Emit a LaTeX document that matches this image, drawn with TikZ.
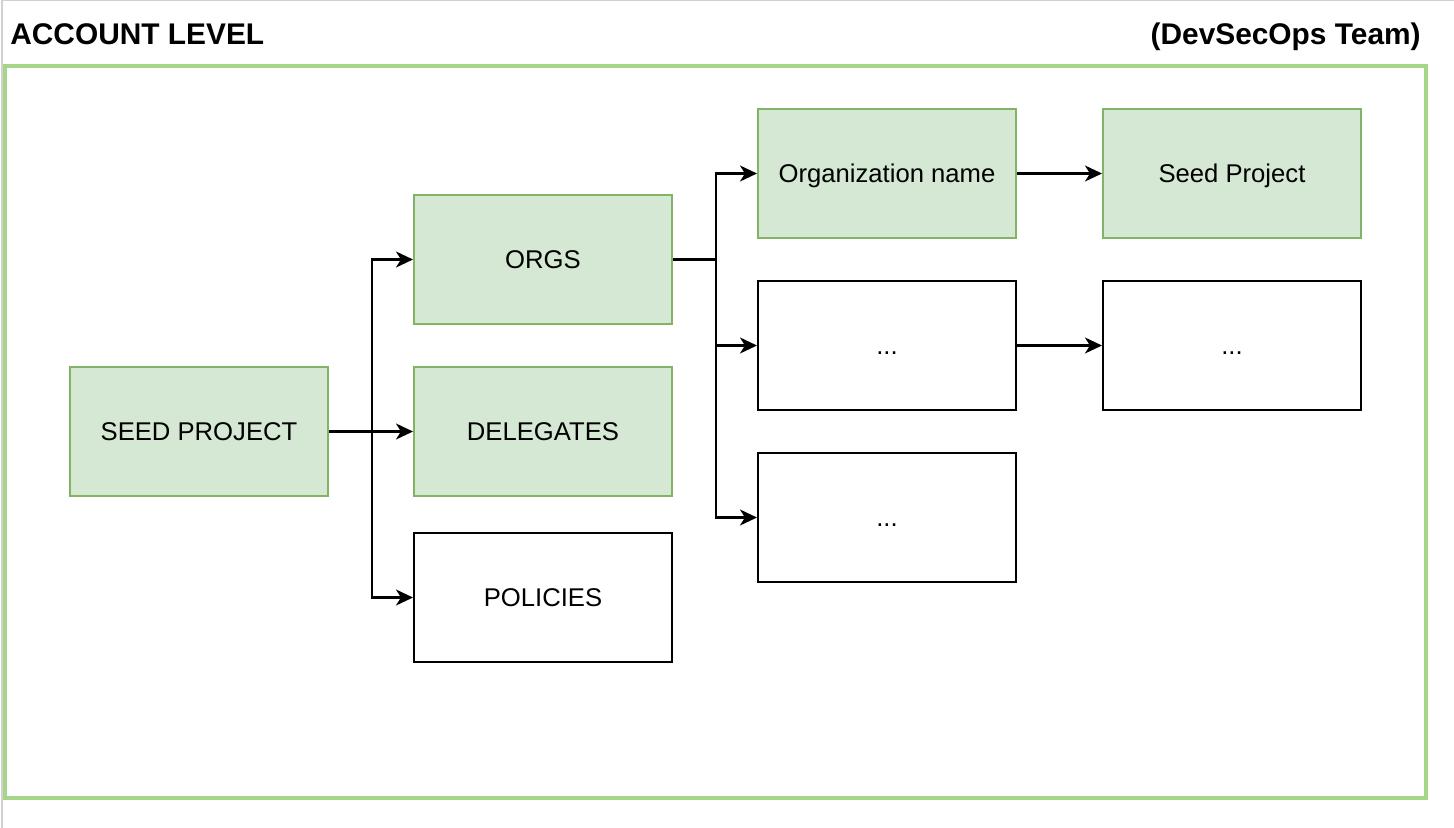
\documentclass[tikz,border=0pt]{standalone}
\usepackage{fontspec}
\setmainfont{Liberation Sans}
\usepackage{xcolor}
\usetikzlibrary{arrows.meta}
\definecolor{acctfill}{HTML}{D5E8D4}
\definecolor{acctline}{HTML}{82B366}
\definecolor{acctframe}{HTML}{A6D58A}
\tikzset{
  acctbox/.style={draw=acctline, fill=acctfill, line width=1.2pt, minimum width=5.16cm, minimum height=2.58cm, inner sep=0pt, text height=10.4pt, text depth=0pt, font=\fontsize{14.6}{17}\selectfont},
  acctplain/.style={acctbox, draw=black, fill=white},
  acctarrow/.style={-{Stealth[length=0.34cm,width=0.32cm,inset=0.1cm]}, line width=1.2pt},
}

\begin{document}
\begin{tikzpicture}[x=0.02cm, y=-0.02cm]
        \newcommand{\acctcola}{199}
        \newcommand{\acctcolb}{543}
        \newcommand{\acctcolc}{887}
        \newcommand{\acctcold}{1232}
        \newcommand{\acctrowa}{173.5}
        \newcommand{\acctrowb}{259.5}
        \newcommand{\acctrowc}{345.5}
        \newcommand{\acctrowd}{431.5}
        \newcommand{\acctrowe}{517.5}
        \newcommand{\acctrowf}{597.5}
        \newcommand{\acctgap}{43}
        \useasboundingbox (0,0) rectangle (1454,828);
        \draw[black!18, line width=0.6pt] (2,828) -- (2,0.5) -- (1454,0.5);
        \draw[acctframe, line width=2pt] (5,66) rectangle (1426,798);
        \node[anchor=base west, inner sep=0pt, font=\bfseries\fontsize{17}{20}\selectfont] (acctlevel) at (10,45) {ACCOUNT LEVEL};
        \node[anchor=base east, inner sep=0pt, font=\bfseries\fontsize{17}{20}\selectfont] (acctteam) at (1421,45) {(DevSecOps Team)};
        \node[acctbox] (seedproj) at (\acctcola,\acctrowd) {SEED PROJECT};
        \node[acctbox] (orgs) at (\acctcolb,\acctrowb) {ORGS};
        \node[acctbox] (delegates) at (\acctcolb,\acctrowd) {DELEGATES};
        \node[acctplain] (policies) at (\acctcolb,\acctrowf) {POLICIES};
        \node[acctbox] (orgname) at (\acctcolc,\acctrowa) {Organization name};
        \node[acctplain] (orgmore) at (\acctcolc,\acctrowc) {...};
        \node[acctplain] (orgmoreb) at (\acctcolc,\acctrowe) {...};
        \node[acctbox] (seedp) at (\acctcold,\acctrowa) {Seed Project};
        \node[acctplain] (seedmore) at (\acctcold,\acctrowc) {...};
        \draw[acctarrow] (seedproj) -- (delegates);
        \draw[acctarrow] (seedproj.east) -- ++(\acctgap,0) |- (orgs);
        \draw[acctarrow] (seedproj.east) -- ++(\acctgap,0) |- (policies);
        \draw[acctarrow] (orgs.east) -- ++(\acctgap,0) |- (orgname);
        \draw[acctarrow] (orgs.east) -- ++(\acctgap,0) |- (orgmore);
        \draw[acctarrow] (orgs.east) -- ++(\acctgap,0) |- (orgmoreb);
        \draw[acctarrow] (orgname) -- (seedp);
        \draw[acctarrow] (orgmore) -- (seedmore);
    \end{tikzpicture}
\end{document}
